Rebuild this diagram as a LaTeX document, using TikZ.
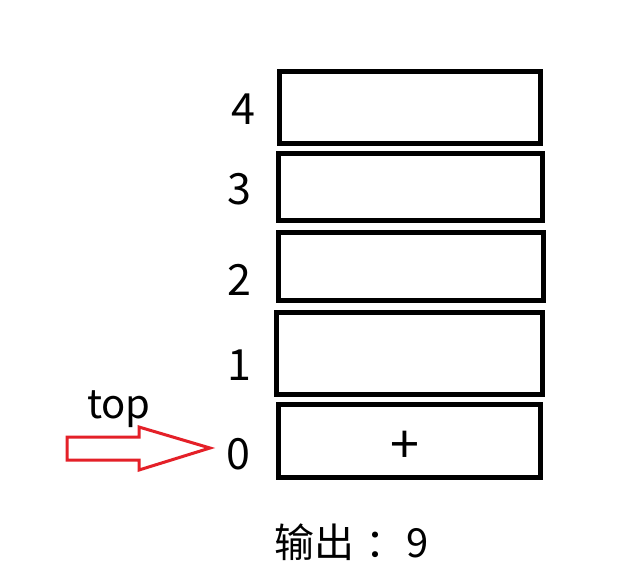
\documentclass[tikz,border=0pt]{standalone}
\usepackage{fontspec}
\setmainfont{Noto Sans CJK SC}
\definecolor{arrowred}{RGB}{228,32,40}
\begin{document}
\begin{tikzpicture}[x=1pt,y=-1pt,
  stackbox/.style={draw=black,line width=5pt,inner sep=0pt,line join=miter},
  idx/.style={inner sep=0pt,font=\fontsize{43}{43}\selectfont},
  lbl/.style={inner sep=0pt,font=\fontsize{40}{40}\selectfont},
  outtxt/.style={inner sep=0pt,font=\fontsize{40}{40}\selectfont}]
\useasboundingbox[fill=white] (0,0) rectangle (634,581);
% stack cells
\node[stackbox,minimum width=261pt,minimum height=72pt] (b4) at (410,107.5) {};
\node[stackbox,minimum width=264pt,minimum height=67pt] (b3) at (410.5,187) {};
\node[stackbox,minimum width=265pt,minimum height=68pt] (b2) at (411,266.5) {};
\node[stackbox,minimum width=266pt,minimum height=82pt] (b1) at (409.5,353.5) {};
\node[stackbox,minimum width=262pt,minimum height=73pt] (b0) at (409.5,441) {};
\node[inner sep=0pt,font=\fontsize{52}{52}\selectfont] (plus) at (405,447) {+};
% indices
\node[idx] (l4) at (243.5,109.5) {4};
\node[idx] (l3) at (239.5,189) {3};
\node[idx] (l2) at (239.5,280) {2};
\node[idx] (l1) at (239,365) {1};
\node[idx] (l0) at (238.5,454) {0};
% top pointer
\node[lbl,anchor=base west] (top) at (87,418) {top};
\coordinate (tip) at (210,448);
\draw[arrowred,line width=3pt,line join=miter]
  (67,437) -- (139,437) -- (139,427) -- (tip) -- (139,470) -- (139,460) -- (67,460) -- cycle;
% output
\node[outtxt,anchor=west] (out) at (274,542) {输出\hspace{11pt}：\hspace{1pt}9};
\end{tikzpicture}
\end{document}
